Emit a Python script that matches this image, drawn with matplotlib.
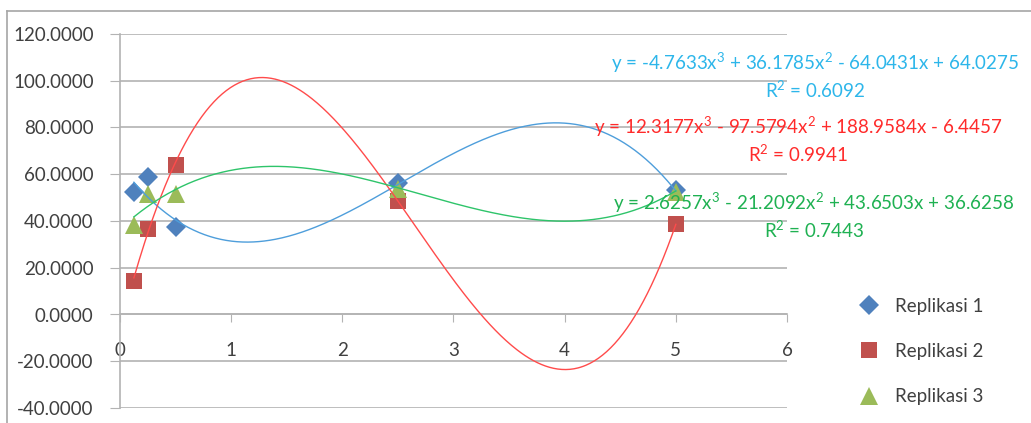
import numpy as np
import matplotlib.pyplot as plt
from matplotlib.lines import Line2D

plt.rcParams['font.family'] = ['Lato', 'DejaVu Sans']
plt.rcParams['mathtext.fontset'] = 'custom'
plt.rcParams['mathtext.rm'] = 'Lato'

# Data
x_vals = [0.125, 0.25, 0.5, 2.5, 5.0]
rep1 = [52.2, 59.0, 37.4, 56.2, 53.2]
rep2 = [14.3, 36.7, 64.0, 48.5, 38.9]
rep3 = [38.5, 51.6, 51.6, 53.8, 52.6]

# Trendline coefficients (3rd order polynomial, highest power first) and R^2 shown on chart
coef1 = [-4.7633, 36.1785, -64.0431, 64.0275]
coef2 = [12.3177, -97.5794, 188.9584, -6.4457]
coef3 = [2.6257, -21.2092, 43.6503, 36.6258]
r2_vals = [0.6092, 0.9941, 0.7443]

series_names = ['Replikasi 1', 'Replikasi 2', 'Replikasi 3']
marker_colors = ['#4F81BD', '#C0504D', '#9BBB59']
markers = ['D', 's', '^']
marker_sizes = [10.5, 12, 12.5]
line_colors = ['#4E9EDB', '#FF4B4B', '#2EC46A']
text_colors = ['#2DB6EA', '#FF2B2B', '#1FB152']


def eq_label(c, r2):
    def term(v, first=False):
        s = '-' if v < 0 else '+'
        if first:
            return ('-' if v < 0 else '') + f'{abs(v):.4f}'
        return f' {s} {abs(v):.4f}'
    sup3 = r'$\mathregular{^3}$'
    sup2 = r'$\mathregular{^2}$'
    txt = 'y = ' + term(c[0], True) + 'x' + sup3 + term(c[1]) + 'x' + sup2 + term(c[2]) + 'x' + term(c[3])
    return txt + '\n' + 'R' + sup2 + f' = {r2:.4f}'


fig = plt.figure(figsize=(10.31, 4.23), dpi=100)
ax = fig.add_axes([120 / 1031, 1 - 408 / 423, (787 - 120) / 1031, (408 - 34) / 423])

# chart area border (top and left visible)
fig.add_artist(Line2D([7 / 1031, 7 / 1031], [0, 1 - 11 / 423], transform=fig.transFigure,
                      color='#a6a6a6', lw=1.2))
fig.add_artist(Line2D([7 / 1031, 1], [1 - 11 / 423, 1 - 11 / 423], transform=fig.transFigure,
                      color='#a6a6a6', lw=1.2))

for ys, m, ms, mc, name in zip([rep1, rep2, rep3], markers, marker_sizes, marker_colors, series_names):
    ax.plot(x_vals, ys, linestyle='none', marker=m, markersize=ms, color=mc,
            markeredgewidth=0, label=name, zorder=3)

xs = np.linspace(min(x_vals), max(x_vals), 400)
for c, lc in zip([coef1, coef2, coef3], line_colors):
    ax.plot(xs, np.polyval(c, xs), color=lc, lw=1.0, zorder=4)

ax.set_xlim(0, 6)
ax.set_ylim(-40, 120)
ax.set_xticks(range(0, 7))
ax.set_yticks(np.arange(-40, 121, 20))
ax.set_yticklabels([f'{v:.4f}' for v in np.arange(-40, 121, 20)])
ax.yaxis.grid(True, color='#b3b3b3', lw=1.2)
ax.set_axisbelow(True)

for s in ['top', 'right']:
    ax.spines[s].set_visible(False)
ax.spines['left'].set_color('#b3b3b3')
ax.spines['bottom'].set_color('#b3b3b3')
ax.spines['bottom'].set_position(('data', 0))
ax.spines['left'].set_linewidth(1.2)
ax.spines['bottom'].set_linewidth(1.2)
ax.tick_params(axis='y', length=7, color='#b3b3b3', pad=12, labelsize=13.5, labelcolor='#404040')
ax.tick_params(axis='x', length=6, color='#b3b3b3', pad=14, labelsize=13.5, labelcolor='#404040')

# trendline equations
label_pos = [(815, 76), (798, 140), (814, 216)]
for c, r2, tc, (px, py) in zip([coef1, coef2, coef3], r2_vals, text_colors, label_pos):
    fig.text(px / 1031, 1 - py / 423, eq_label(c, r2), color=tc, fontsize=13.5,
             ha='center', va='center', multialignment='center', linespacing=1.25)

ax.legend(loc='upper left', bbox_to_anchor=(833 / 1031, 1 - 281 / 423),
          bbox_transform=fig.transFigure, frameon=False, fontsize=13.5,
          labelspacing=1.5, handletextpad=0.4, labelcolor='#404040')

fig.savefig('out.png', dpi=100)
